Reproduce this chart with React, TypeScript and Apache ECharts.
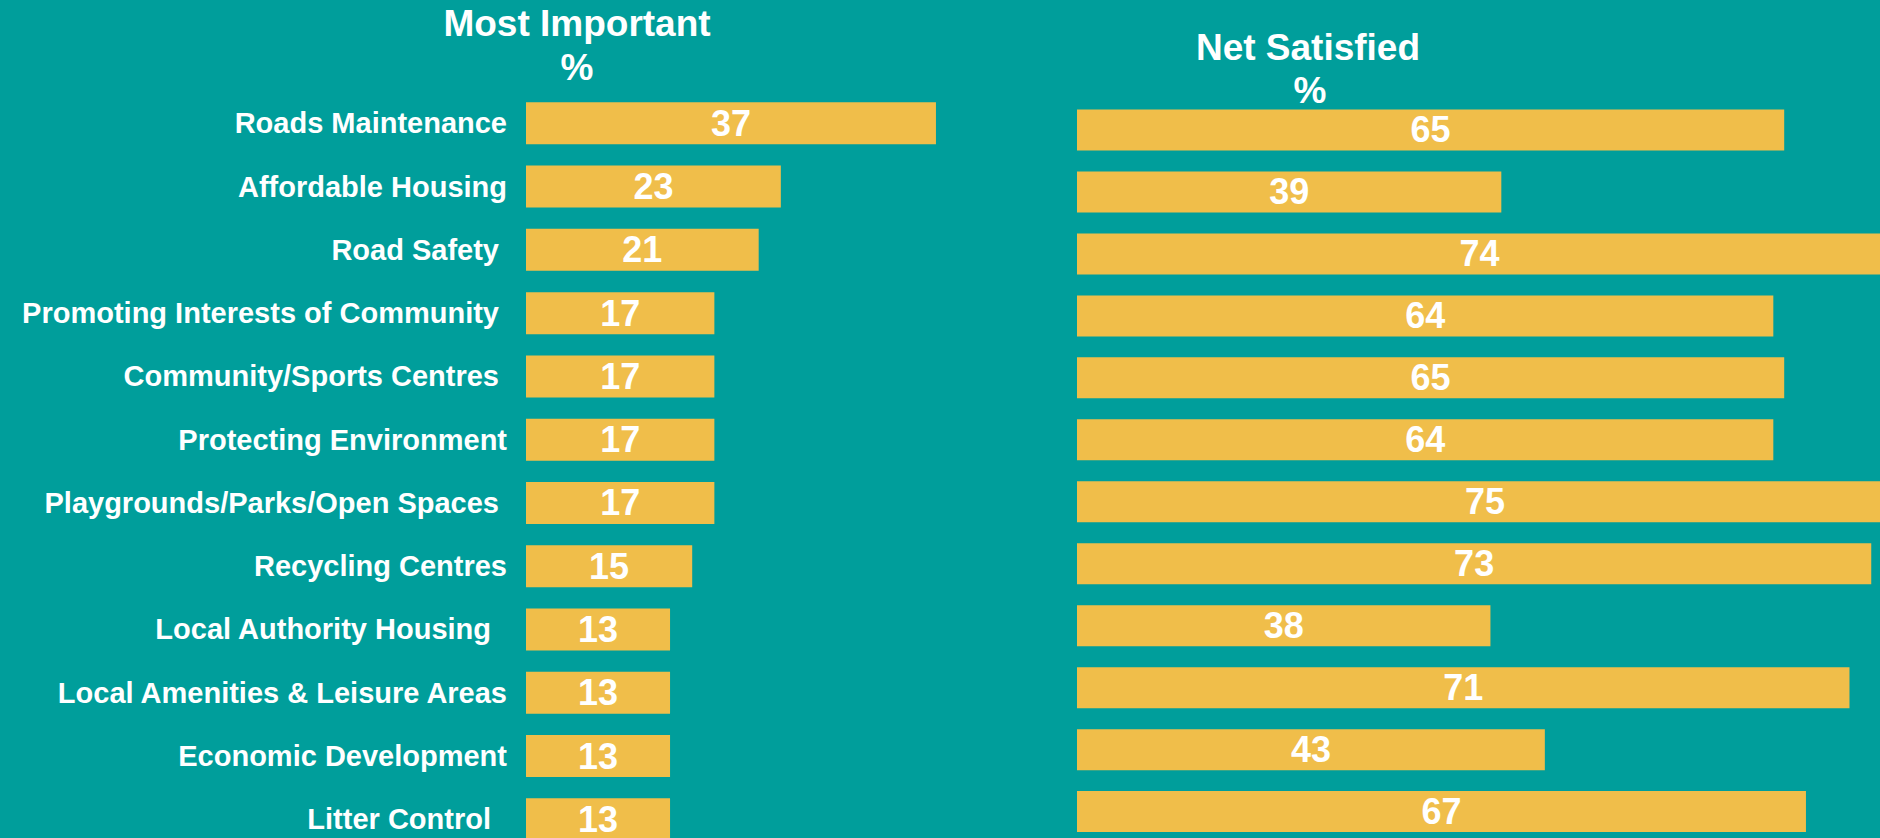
import React, { useEffect, useRef } from "react";
import * as echarts from "echarts";

const categories = [
  "Roads Maintenance",
  "Affordable Housing",
  "Road Safety",
  "Promoting Interests of Community",
  "Community/Sports Centres",
  "Protecting Environment",
  "Playgrounds/Parks/Open Spaces",
  "Recycling Centres",
  "Local Authority Housing",
  "Local Amenities & Leisure Areas",
  "Economic Development",
  "Litter Control",
];
const mostImportant = [37, 23, 21, 17, 17, 17, 17, 15, 13, 13, 13, 13];
const netSatisfied = [65, 39, 74, 64, 65, 64, 75, 73, 38, 71, 43, 67];
// trailing spaces after each label in the original
const labelTrailingSpaces = [0, 0, 1, 1, 1, 0, 1, 0, 2, 0, 0, 2];

const BG = "#009E9B";
const BAR = "#F0BE4A";
const FONT = "'Liberation Sans', Arial, sans-serif";

export default function App() {
  const ref = useRef<HTMLDivElement>(null);
  useEffect(() => {
    const chart = echarts.init(ref.current!, null, { renderer: "svg" });
    const richBase = { color: "#fff", fontSize: 29, fontWeight: "bold", fontFamily: FONT };
    const titleStyle = { fill: "#fff", font: `bold 37px ${FONT}`, textAlign: "center", textVerticalAlign: "middle" };
    chart.setOption({
      animation: false,
      backgroundColor: BG,
      graphic: [
        { type: "text", x: 577, y: 23, style: { ...titleStyle, text: "Most Important" } },
        { type: "text", x: 577, y: 67, style: { ...titleStyle, text: "%" } },
        { type: "text", x: 1308, y: 47, style: { ...titleStyle, text: "Net Satisfied" } },
        { type: "text", x: 1310, y: 90, style: { ...titleStyle, text: "%" } },
      ],
      grid: [
        { left: 526, top: 91.7, width: 554, height: 759.2, outerBoundsMode: "none", containLabel: false },
        { left: 1077, top: 99, width: 1088, height: 743.6, outerBoundsMode: "none", containLabel: false },
      ],
      xAxis: [
        { type: "value", gridIndex: 0, min: 0, max: 50, show: false, splitLine: { show: false } },
        { type: "value", gridIndex: 1, min: 0, max: 100, show: false, splitLine: { show: false } },
      ],
      yAxis: [
        {
          type: "category",
          gridIndex: 0,
          data: categories,
          inverse: true,
          axisLine: { show: false },
          axisTick: { show: false },
          splitLine: { show: false },
          axisLabel: {
            margin: 19,
            color: "#fff",
            fontSize: 29,
            fontWeight: "bold",
            fontFamily: FONT,
            formatter: (v: string, i: number) => `{p${labelTrailingSpaces[i]}|${v}}`,
            rich: {
              p0: { ...richBase },
              p1: { ...richBase, padding: [0, 8, 0, 0] },
              p2: { ...richBase, padding: [0, 16, 0, 0] },
            },
          },
        },
        {
          type: "category",
          gridIndex: 1,
          data: categories,
          inverse: true,
          show: false,
        },
      ],
      series: [
        {
          type: "bar",
          xAxisIndex: 0,
          yAxisIndex: 0,
          data: mostImportant,
          barWidth: 42,
          itemStyle: { color: BAR },
          label: { show: true, position: "inside", color: "#fff", fontSize: 36, fontWeight: "bold", fontFamily: FONT },
        },
        {
          type: "bar",
          xAxisIndex: 1,
          yAxisIndex: 1,
          data: netSatisfied,
          barWidth: 41,
          itemStyle: { color: BAR },
          label: { show: true, position: "inside", color: "#fff", fontSize: 36, fontWeight: "bold", fontFamily: FONT },
        },
      ],
    });
    return () => chart.dispose();
  }, []);
  return <div ref={ref} style={{ position: "fixed", left: 0, top: 0, width: 1880, height: 838 }} />;
}
